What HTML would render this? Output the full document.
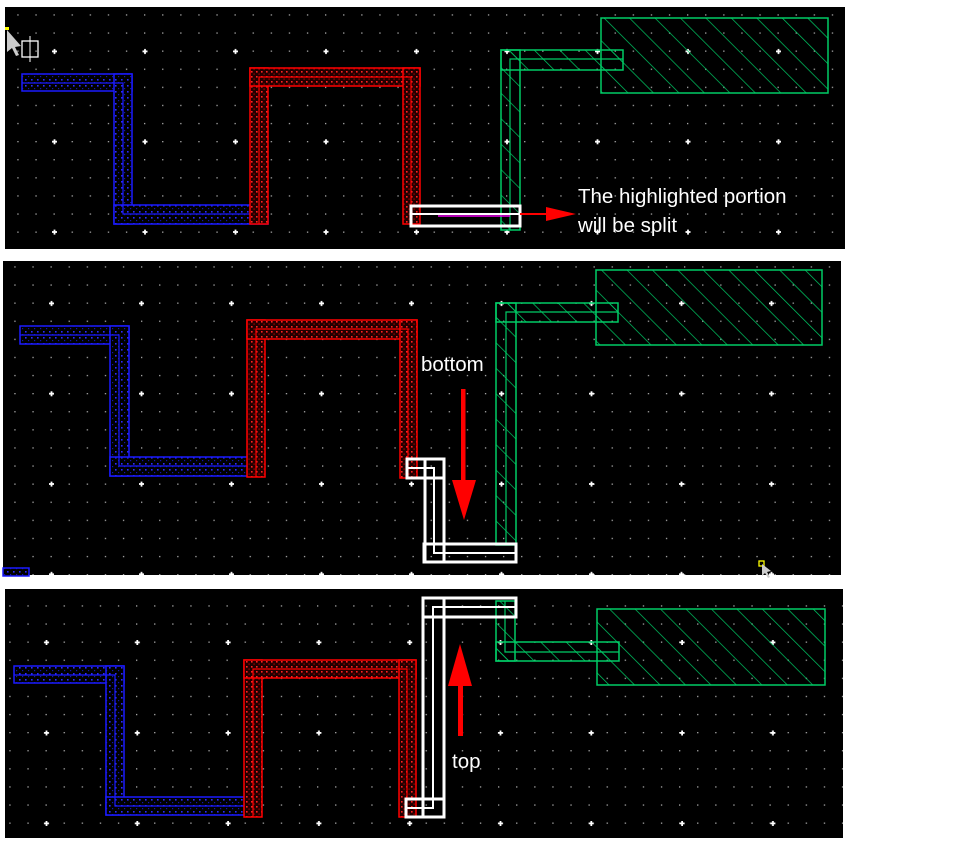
<!DOCTYPE html>
<html><head><meta charset="utf-8"><style>
html,body{margin:0;padding:0;background:#fff;width:963px;height:844px;overflow:hidden}
svg{display:block}
text{font-family:"Liberation Sans",sans-serif;font-size:20.5px;fill:#fff}
</style></head><body>
<svg width="963" height="844" viewBox="0 0 963 844" xmlns="http://www.w3.org/2000/svg">
<defs>
<pattern id="g1" patternUnits="userSpaceOnUse" x="53.5" y="50.5" width="18.1" height="18.1"><rect x="0" y="0" width="1.3" height="1.3" fill="#aaa"/></pattern>
<pattern id="b1" patternUnits="userSpaceOnUse" x="9" y="6" width="90.5" height="90.3"><rect x="43" y="44.5" width="5" height="1.8" fill="#fff"/><rect x="44.6" y="43" width="1.8" height="5" fill="#fff"/></pattern>
<pattern id="g2" patternUnits="userSpaceOnUse" x="50.5" y="302.5" width="18.1" height="18.1"><rect x="0" y="0" width="1.3" height="1.3" fill="#aaa"/></pattern>
<pattern id="b2" patternUnits="userSpaceOnUse" x="6" y="258" width="90" height="90.3"><rect x="43" y="44.5" width="5" height="1.8" fill="#fff"/><rect x="44.6" y="43" width="1.8" height="5" fill="#fff"/></pattern>
<pattern id="g3" patternUnits="userSpaceOnUse" x="45.5" y="641.5" width="18.1" height="18.1"><rect x="0" y="0" width="1.3" height="1.3" fill="#aaa"/></pattern>
<pattern id="b3" patternUnits="userSpaceOnUse" x="1" y="597" width="90.8" height="90.5"><rect x="43" y="44.5" width="5" height="1.8" fill="#fff"/><rect x="44.6" y="43" width="1.8" height="5" fill="#fff"/></pattern>
<pattern id="pb" patternUnits="userSpaceOnUse" width="6" height="6"><rect width="6" height="6" fill="#000"/><rect x="1" y="1" width="1.6" height="1.6" fill="#2a2aff"/><rect x="4" y="4" width="1.2" height="1.2" fill="#1515aa"/></pattern>
<pattern id="pr" patternUnits="userSpaceOnUse" width="5" height="5"><rect width="5" height="5" fill="#200"/><rect x="1" y="1" width="1.6" height="1.6" fill="#f22"/><rect x="3.5" y="3.5" width="1.2" height="1.2" fill="#b00"/></pattern>
<pattern id="pg" patternUnits="userSpaceOnUse" width="18" height="18" patternTransform="rotate(-45)"><line x1="0" y1="0" x2="0" y2="18" stroke="#0c6" stroke-width="1.4"/></pattern>
</defs>

<!-- Panel 1 -->
<rect x="5" y="7" width="840" height="242" fill="#000"/>
<rect x="5" y="7" width="840" height="242" fill="url(#g1)"/>
<rect x="5" y="7" width="840" height="242" fill="url(#b1)"/>
<g fill="url(#pb)" stroke="#1a1aff" stroke-width="1.5">
<rect x="22" y="74" width="110" height="17"/><rect x="114" y="74" width="18" height="150"/><rect x="114" y="205" width="154" height="19"/>
</g>
<polyline points="22,83 123,83 123,214 268,214" fill="none" stroke="#1a1aff" stroke-width="1.2"/>
<g fill="url(#pr)" stroke="#f00" stroke-width="1.5">
<rect x="250" y="68" width="18" height="156"/><rect x="250" y="68" width="170" height="18"/><rect x="403" y="68" width="17" height="156"/>
</g>
<polyline points="259,224 259,77 411,77 411,224" fill="none" stroke="#f00" stroke-width="1.2"/>
<g fill="url(#pg)" stroke="#0c6" stroke-width="1.5">
<rect x="501" y="50" width="19" height="180"/><rect x="501" y="50" width="122" height="20"/><rect x="601" y="18" width="227" height="75"/>
</g>
<polyline points="510,230 510,59 623,59" fill="none" stroke="#0c6" stroke-width="1.2"/>
<rect x="411" y="206" width="109" height="20" fill="none" stroke="#fff" stroke-width="3"/>
<line x1="411" y1="214" x2="520" y2="214" stroke="#fff" stroke-width="2"/>
<line x1="438" y1="216" x2="510" y2="216" stroke="#e0e" stroke-width="1.5"/>
<line x1="520" y1="214" x2="548" y2="214" stroke="#f00" stroke-width="2"/>
<polygon points="546,207 576,214 546,221" fill="#f00"/>
<text x="578" y="203">The highlighted portion</text>
<text x="578" y="232">will be split</text>
<polygon points="7,30 7,52 12,48 16,56 19,55 15,47 21,46" fill="#ccc"/>
<rect x="22" y="41" width="16" height="16" fill="none" stroke="#fff" stroke-width="1.3"/>
<line x1="30" y1="36" x2="30" y2="62" stroke="#fff" stroke-width="1"/>
<rect x="5" y="27" width="4" height="3" fill="#ff0"/>

<!-- Panel 2 -->
<rect x="3" y="261" width="838" height="314" fill="#000"/>
<rect x="3" y="261" width="838" height="314" fill="url(#g2)"/>
<rect x="3" y="261" width="838" height="314" fill="url(#b2)"/>
<g fill="url(#pb)" stroke="#1a1aff" stroke-width="1.5">
<rect x="20" y="326" width="109" height="18"/><rect x="110" y="326" width="19" height="150"/><rect x="110" y="457" width="147" height="19"/>
<rect x="3" y="568" width="26" height="8"/>
</g>
<polyline points="20,335 119,335 119,466 257,466" fill="none" stroke="#1a1aff" stroke-width="1.2"/>
<g fill="url(#pr)" stroke="#f00" stroke-width="1.5">
<rect x="247" y="320" width="18" height="157"/><rect x="247" y="320" width="170" height="19"/><rect x="400" y="320" width="17" height="158"/>
</g>
<polyline points="256,477 256,329 408,329 408,478" fill="none" stroke="#f00" stroke-width="1.2"/>
<g fill="url(#pg)" stroke="#0c6" stroke-width="1.5">
<rect x="496" y="303" width="20" height="242"/><rect x="496" y="303" width="122" height="19"/><rect x="596" y="270" width="226" height="75"/>
</g>
<polyline points="506,545 506,312 618,312" fill="none" stroke="#0c6" stroke-width="1.2"/>
<g fill="none" stroke="#fff" stroke-width="3">
<rect x="407" y="459" width="37" height="19"/><rect x="425" y="459" width="19" height="103"/><rect x="424" y="544" width="92" height="18"/>
</g>
<polyline points="407,468 434,468 434,553 516,553" fill="none" stroke="#fff" stroke-width="2"/>
<rect x="461" y="389" width="4.5" height="92" fill="#f00"/>
<polygon points="452,480 476,480 464,520" fill="#f00"/>
<text x="421" y="371">bottom</text>
<rect x="759" y="561" width="5" height="5" fill="none" stroke="#ff0" stroke-width="1.3"/>
<polygon points="762,564 762,576 765,573 768,578 770,577 767,572 771,571" fill="#ccc"/>

<!-- Panel 3 -->
<rect x="5" y="589" width="838" height="249" fill="#000"/>
<rect x="5" y="589" width="838" height="249" fill="url(#g3)"/>
<rect x="5" y="589" width="838" height="249" fill="url(#b3)"/>
<g fill="url(#pb)" stroke="#1a1aff" stroke-width="1.5">
<rect x="14" y="666" width="110" height="17"/><rect x="106" y="666" width="18" height="149"/><rect x="106" y="797" width="148" height="18"/>
</g>
<polyline points="14,675 115,675 115,806 254,806" fill="none" stroke="#1a1aff" stroke-width="1.2"/>
<g fill="url(#pr)" stroke="#f00" stroke-width="1.5">
<rect x="244" y="660" width="18" height="157"/><rect x="244" y="660" width="172" height="18"/><rect x="399" y="660" width="17" height="157"/>
</g>
<polyline points="253,817 253,669 407,669 407,817" fill="none" stroke="#f00" stroke-width="1.2"/>
<g fill="url(#pg)" stroke="#0c6" stroke-width="1.5">
<rect x="496" y="601" width="19" height="60"/><rect x="496" y="642" width="123" height="19"/><rect x="597" y="609" width="228" height="76"/>
</g>
<polyline points="505,601 505,652 619,652" fill="none" stroke="#0c6" stroke-width="1.2"/>
<g fill="none" stroke="#fff" stroke-width="3">
<rect x="406" y="799" width="38" height="18"/><rect x="423" y="598" width="21" height="219"/><rect x="423" y="598" width="93" height="19"/>
</g>
<polyline points="406,808 433,808 433,607 516,607" fill="none" stroke="#fff" stroke-width="2"/>
<rect x="458" y="684" width="5" height="52" fill="#f00"/>
<polygon points="448,686 472,686 460,644" fill="#f00"/>
<text x="452" y="768">top</text>
</svg>
</body></html>
